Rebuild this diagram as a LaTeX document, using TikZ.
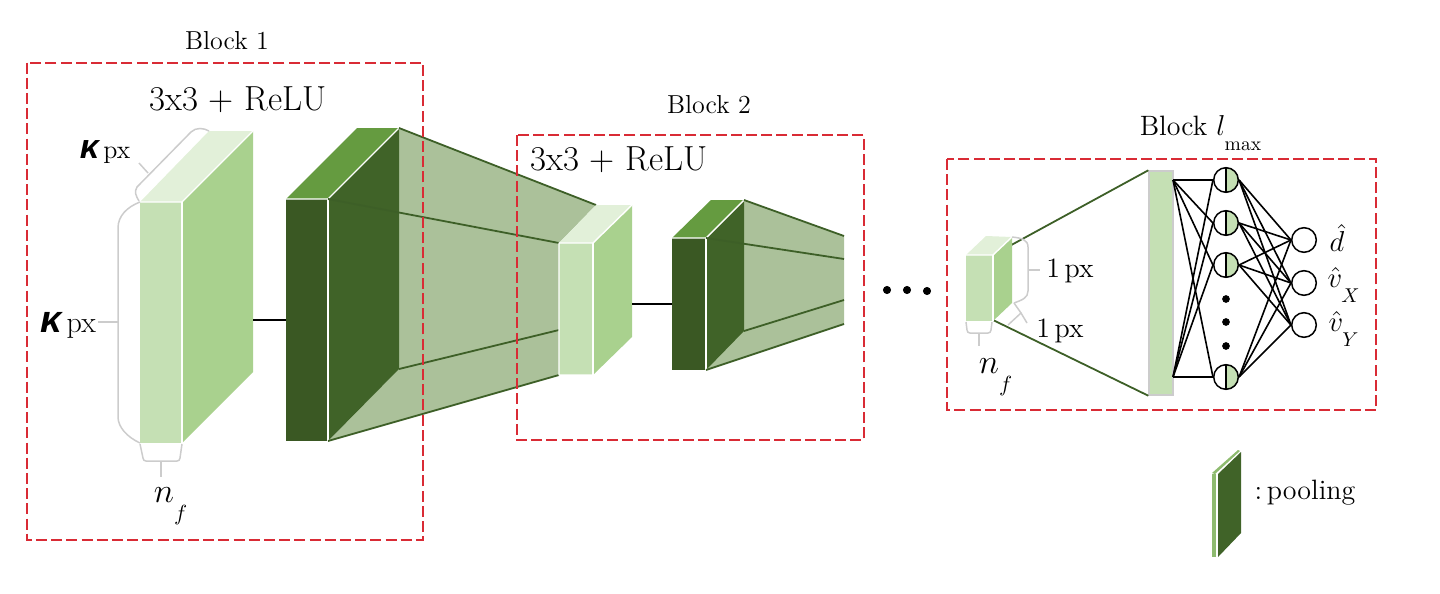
\documentclass[tikz,border=0pt]{standalone}
\usepackage{amsmath}
\usepackage{fontspec}
\usepackage{tikz}
\usetikzlibrary{arrows.meta}
\newfontfamily\kappafont{Liberation Sans}
\newcommand{\lsub}[1]{_{\raisebox{-0.9ex}{$\scriptstyle #1$}}}
\newcommand{\kpx}[1]{{\fontsize{#1}{#1}\selectfont\kappafont\bfseries\itshape κ}\,px}
\definecolor{lightfront}{HTML}{C5E0B4}
\definecolor{lightside}{HTML}{A9D18E}
\definecolor{lighttop}{HTML}{E2F0D9}
\definecolor{darkfront}{HTML}{3A5823}
\definecolor{darkside}{HTML}{406328}
\definecolor{darktop}{HTML}{659B40}
\definecolor{funnelfill}{HTML}{ABC19A}
\definecolor{funnelline}{HTML}{3D5F27}
\definecolor{blockred}{HTML}{D92B35}
\definecolor{bracegray}{HTML}{CCCCCC}
\tikzset{
  face/.style={draw=white,line width=0.7pt,line join=round},
  blockbox/.style={draw=blockred,line width=1pt,dash pattern=on 5.5pt off 2.1pt},
  funnel/.style={draw=funnelline,line width=0.9pt},
  brace/.style={draw=bracegray,line width=0.75pt},
  smalltext/.style={font=\fontsize{13}{15}\selectfont},
  midtext/.style={font=\fontsize{14}{16}\selectfont},
  subtext/.style={font=\fontsize{16}{18}\selectfont},
  bigtext/.style={font=\fontsize{17.4}{20}\selectfont},
  neuron/.style={circle,draw=black,line width=0.75pt,fill=white,minimum size=12.3pt,inner sep=0pt},
  halfneuron/.style={neuron,path picture={
    \fill [lightfront] (path picture bounding box.north) rectangle (path picture bounding box.south east);
    \draw [line width=0.75pt] (path picture bounding box.north) -- (path picture bounding box.south);}},
  edge/.style={draw=black,line width=0.8pt}
}
\begin{document}
\begin{tikzpicture}[x=0.5pt,y=-0.5pt]
\useasboundingbox (0,0) rectangle (1440,594);
% funnels behind the dark boxes
\fill [funnelfill] (399,128) -- (596,205) -- (559,243) -- (559,375) -- (328,441) -- (399,369) -- cycle;
\fill [funnelfill] (744,200) -- (844,236) -- (844,324) -- (706,370) -- cycle;
% first conv box
\fill [lightfront] (140,202) rectangle (182,443);
\fill [lightside] (182,202) -- (253,131) -- (253,372) -- (182,443) -- cycle;
\fill [lighttop] (140,202) -- (209,131) -- (253,131) -- (182,202) -- cycle;
\draw [face] (140,202) -- (182,202) -- (253,131);
\draw [face] (182,202) -- (182,443);
% first pooled box
\fill [darkfront] (286,199) rectangle (328,441);
\fill [darkside] (328,199) -- (399,128) -- (399,369) -- (328,441) -- cycle;
\fill [darktop] (286,199) -- (357,128) -- (399,128) -- (328,199) -- cycle;
\draw [face] (286,199) -- (328,199) -- (399,128);
\draw [face] (328,199) -- (328,441);
\draw [funnel] (399,128) -- (596,205);
\draw [funnel] (328,199) -- (559,243);
\draw [funnel] (399,369) -- (559,330);
\draw [funnel] (328,441) -- (559,375);
% second conv box
\fill [lightfront] (559,243) rectangle (593,375);
\fill [lightside] (593,243) -- (632,205) -- (632,337) -- (593,375) -- cycle;
\fill [lighttop] (559,243) -- (596,205) -- (632,205) -- (593,243) -- cycle;
\draw [face] (593,375) -- (559,375) -- (559,243) -- (593,243) -- (632,205);
\draw [face] (593,243) -- (593,375);
% second pooled box
\fill [darkfront] (672,238) rectangle (706,370);
\fill [darkside] (706,238) -- (744,200) -- (744,331) -- (706,370) -- cycle;
\fill [darktop] (672,238) -- (711,200) -- (744,200) -- (706,238) -- cycle;
\draw [face] (672,238) -- (706,238) -- (744,200);
\draw [face] (706,238) -- (706,370);
\draw [funnel] (744,200) -- (844,236);
\draw [funnel] (706,238) -- (844,259);
\draw [funnel] (744,331) -- (844,300);
\draw [funnel] (706,370) -- (844,324);
% links between boxes
\coordinate (convone) at (253,320);
\coordinate (poolone) at (286,320);
\coordinate (convtwo) at (632,304);
\coordinate (pooltwo) at (672,304);
\draw [line width=0.9pt] (convone) -- (poolone);
\draw [line width=0.9pt] (convtwo) -- (pooltwo);
% dots
\filldraw [black] (887,290) circle (1.8pt);
\filldraw [black] (907,290) circle (1.8pt);
\filldraw [black] (927,291) circle (1.8pt);
% last conv box
\node (bar) [draw=bracegray,line width=0.7pt,fill=lightfront,minimum width=12pt,minimum height=112pt,inner sep=0pt] at (1161,283) {};
\draw [funnel] (993,255) -- (bar.north west);
\draw [funnel] (993,320) -- (bar.south west);
\fill [lightfront] (966,255) rectangle (993,321);
\fill [lightside] (993,255) -- (1012,237) -- (1012,303) -- (993,321) -- cycle;
\fill [lighttop] (966,255) -- (986,236) -- (1012,237) -- (993,255) -- cycle;
\draw [face] (966,255) -- (993,255) -- (1012,237);
\draw [face] (993,255) -- (993,321);
% fully connected part
\node (hone) [halfneuron] at (1226,180) {};
\node (htwo) [halfneuron] at (1226,223) {};
\node (hthree) [halfneuron] at (1226,265) {};
\node (hfour) [halfneuron] at (1226,377) {};
\node (outd) [neuron] at (1304,240) {};
\node (outx) [neuron] at (1304,283) {};
\node (outy) [neuron] at (1304,325) {};
\coordinate (bartop) at (1173,180);
\coordinate (barbot) at (1173,377);
\foreach \h in {hone,htwo,hthree,hfour} {
  \draw [edge] (bartop) -- (\h.west);
  \draw [edge] (barbot) -- (\h.west);
  \foreach \o in {outd,outx,outy}
    \draw [edge] (\h.east) -- (\o.west);
}
\filldraw [black] (1226,299) circle (1.7pt);
\filldraw [black] (1226,322) circle (1.7pt);
\filldraw [black] (1226,346) circle (1.7pt);
% brackets
\draw [brace] (140,202) .. controls (127,207) and (118,216) .. (118,228) -- (118,417) .. controls (118,427) and (127,437) .. (140,443);
\draw [brace] (118,322) -- (98,322);
\draw [brace] (139,201) .. controls (136,196) and (134,192) .. (137,187) -- (191,132) .. controls (196,127) and (204,128) .. (209,131);
\draw [brace] (148,173) -- (139,163);
\draw [brace] (140,444) -- (143,458) .. controls (143.5,460) and (144,461) .. (146,461) -- (177,461) .. controls (179,461) and (179.5,460) .. (180,458) -- (182,444);
\draw [brace] (161,461) -- (161,477);
\draw [brace] (966,322) -- (967,330) .. controls (967.5,332) and (968,333) .. (970,333) -- (988,333) .. controls (990,333) and (990.5,332) .. (991,330) -- (992,322);
\draw [brace] (979,333) -- (979,346);
\draw [brace] (1012,237) .. controls (1022,238) and (1028,240) .. (1028,247) -- (1028,291) .. controls (1028,298) and (1022,300) .. (1014,303);
\draw [brace] (1028,270) -- (1040,270);
\draw [brace] (1014,303) -- (1021,313) -- (1008,325);
\draw [brace] (1021,313) -- (1027,323);
% pooling legend
\fill [lightside!60!darktop] (1212,474) rectangle (1216,557);
\fill [lightside!60!darktop] (1212,473) -- (1238,450) -- (1240,451) -- (1215,474) -- cycle;
\fill [darkside] (1218,474) -- (1241,452) -- (1241,533) -- (1218,557) -- cycle;
% block frames
\draw [blockbox] (27,62.5) rectangle (423,540);
\draw [blockbox] (517,135) rectangle (864,440);
\draw [blockbox] (947,159) rectangle (1376,410);
% labels
\node (bone) [smalltext] at (227,41) {Block 1};
\node (btwo) [smalltext] at (709,105) {Block 2};
\node (bmax) [midtext] at (1201,133) {Block $l\lsub{\max}$};
\node (cone) [bigtext] at (238,100) {3x3 + ReLU};
\node (ctwo) [bigtext] at (619,160) {3x3 + ReLU};
\node (kappatop) [smalltext] at (105,152) {\kpx{17}};
\node (kappaleft) [font=\fontsize{15}{17}\selectfont] at (68,325) {\kpx{19}};
\node (nfone) [subtext] at (171,506) {$n\lsub{f}$};
\node (nftwo) [subtext] at (996,377) {$n\lsub{f}$};
\node (pxone) [midtext] at (1070,271) {1\,px};
\node (pxtwo) [midtext] at (1060,331) {1\,px};
\node (dhat) [midtext,inner sep=0pt] at (1337,238) {$\hat{d}$};
\node (vx) [midtext,inner sep=0pt] at (1344,285) {$\hat{v}\lsub{X}$};
\node (vy) [midtext,inner sep=0pt] at (1344,329) {$\hat{v}\lsub{Y}$};
\node (pool) [midtext] at (1305,493) {:\,pooling};
\end{tikzpicture}
\end{document}
